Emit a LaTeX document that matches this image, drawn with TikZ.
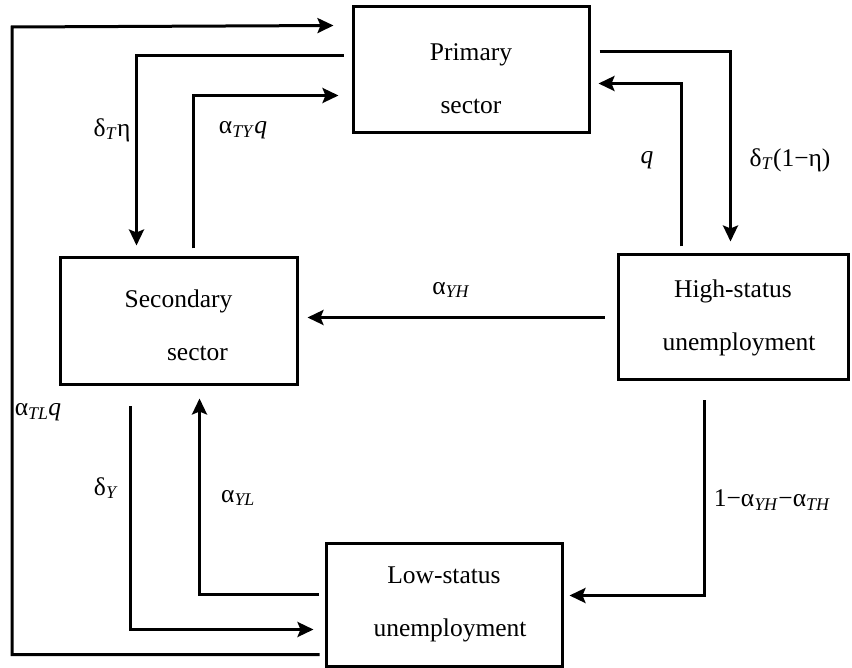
\documentclass[tikz,border=0pt]{standalone}
\usepackage{fontspec}
\setmainfont{Liberation Serif}
\usetikzlibrary{arrows.meta}
\begin{document}
\begin{tikzpicture}[x=1pt,y=-1pt,
  box/.style={draw,line width=3pt,align=center,inner sep=0pt,
    font=\fontsize{25.5}{53}\selectfont},
  arr/.style={line width=3pt,-{Stealth[length=16pt,width=15pt,inset=3pt]}},
  lab/.style={font=\fontsize{25.5}{30}\selectfont,inner sep=0pt}]
\useasboundingbox (0,0) rectangle (852,668);
\fill[white] (0,0) rectangle (852,668);
% boxes
\node[box,minimum width=236pt,minimum height=126pt] (P) at (471,70) {\rule{0pt}{35pt}Primary\\ sector};
\node[box,minimum width=237pt,minimum height=127pt] (S) at (178.5,321.5) {\rule{0pt}{25pt}Secondary\\ \hspace*{38pt}sector};
\node[box,minimum width=230pt,minimum height=125pt] (H) at (733,317.5) {High-status\\ \hspace*{12pt}unemployment};
\node[box,minimum width=236pt,minimum height=123pt] (L) at (444,604.5) {Low-status\\ \hspace*{12pt}unemployment};
% corner
\coordinate (c1) at (12,27);
% arrows
\draw[arr] ([xshift=-5pt,yshift=13pt]L.south west) -| (c1) -- ([xshift=-18pt,yshift=-20pt]P.north west);
\draw[arr] ([xshift=-8pt,yshift=-50pt]P.north west) -| ([xshift=78pt,yshift=11pt]S.north west);
\draw[arr] ([xshift=135pt,yshift=8pt]S.north west) |- ([xshift=-13pt,yshift=-90pt]P.north west);
\draw[arr] ([xshift=9pt,yshift=-46pt]P.north east) -| ([xshift=114pt,yshift=12pt]H.north west);
\draw[arr] ([xshift=65pt,yshift=7pt]H.north west) |- ([xshift=8pt,yshift=-78pt]P.north east);
\draw[arr,shorten <=12pt,shorten >=9pt] (H.west) -- (H.west -| S.east);
\draw[arr] ([xshift=88pt,yshift=-19pt]H.south west) |- ([xshift=6pt,yshift=-54pt]L.north east);
\draw[arr] ([xshift=72pt,yshift=-20pt]S.south west) |- ([xshift=-11pt,yshift=38pt]L.south west);
\draw[arr] ([xshift=-6pt,yshift=-53pt]L.north west) -| ([xshift=141pt,yshift=-12pt]S.south west);
% labels
\node[lab] (l1) at (112,130) {δ\textsubscript{\textit{T}}η};
\node[lab] (l2) at (243,130) {α\textsubscript{\textit{TY}}\textit{q}};
\node[lab] (l3) at (647,160) {\textit{q}};
\node[lab] (l4) at (790,160) {δ\textsubscript{\textit{T}}(1−η)};
\node[lab] (l5) at (451,290) {α\textsubscript{\textit{YH}}};
\node[lab] (l6) at (38,412) {α\textsubscript{\textit{TL}}\textit{q}};
\node[lab] (l7) at (106,488) {δ\textsubscript{\textit{Y}}};
\node[lab] (l8) at (238,498) {α\textsubscript{\textit{YL}}};
\node[lab] (l9) at (772,500) {1−α\textsubscript{\textit{YH}}−α\textsubscript{\textit{TH}}};
\end{tikzpicture}
\end{document}
